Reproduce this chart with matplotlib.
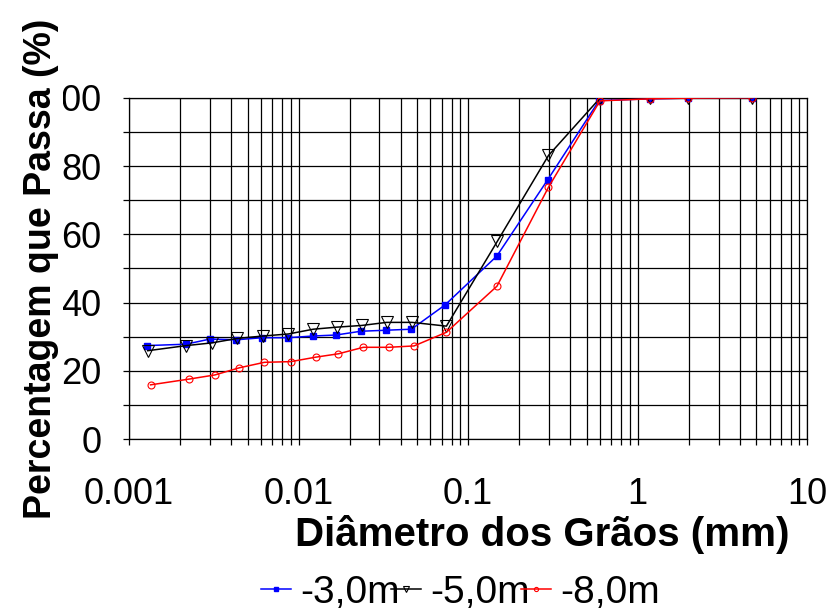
import matplotlib
matplotlib.use("Agg")
import matplotlib.pyplot as plt
from matplotlib.ticker import LogLocator, MultipleLocator, NullFormatter, FixedLocator

plt.rcParams['font.family'] = ['Liberation Sans', 'DejaVu Sans']

# grain size (mm) and percent passing for each depth
d_3m = [0.00127, 0.00216, 0.0030, 0.0043, 0.00607, 0.00863, 0.01213, 0.01665,
        0.0233, 0.0328, 0.0463, 0.0731, 0.1476, 0.295, 0.593, 1.19, 1.98, 4.75]
p_3m = [27.4, 27.8, 29.3, 29.1, 29.7, 29.7, 30.2, 30.5, 31.6, 31.9, 32.2, 39.3,
        53.6, 76.0, 99.2, 99.7, 99.9, 100.0]

d_5m = [0.00129, 0.00218, 0.00309, 0.00436, 0.00615, 0.00871, 0.01222, 0.0168,
        0.0236, 0.0331, 0.0468, 0.0745, 0.149, 0.298, 0.6, 1.19, 1.98, 4.75]
p_5m = [25.9, 27.4, 28.2, 29.5, 30.2, 30.8, 32.2, 32.8, 33.3, 34.2, 34.2, 33.1,
        58.0, 83.1, 99.9, 100.0, 100.0, 100.0]

d_8m = [0.00134, 0.00227, 0.00321, 0.00448, 0.00629, 0.0090, 0.0126, 0.0172,
        0.0241, 0.0340, 0.0480, 0.0745, 0.148, 0.298, 0.6, 1.19, 1.98, 4.75]
p_8m = [15.9, 17.6, 18.8, 20.9, 22.5, 22.7, 24.0, 25.0, 26.9, 26.9, 27.3, 31.3,
        44.8, 73.8, 99.1, 99.7, 99.9, 100.0]

x_ticks = [0.001, 0.01, 0.1, 1, 10]
x_labels = ["0.001", "0.01", "0.1", "1", "10"]
y_ticks = [0, 20, 40, 60, 80, 100]

fig = plt.figure(figsize=(8.27, 6.15), dpi=100)
ax = fig.add_axes([0.156, 0.286, 0.820, 0.555])

ax.plot(d_3m, p_3m, '-', color='blue', marker='s', ms=5, mfc='blue', mec='blue',
        lw=1.1, label='-3,0m', zorder=3)
ax.plot(d_5m, p_5m, '-', color='black', marker='v', ms=8, mfc='none', mec='black',
        mew=0.8, lw=1.1, label='-5,0m', zorder=3)
ax.plot(d_8m, p_8m, '-', color='red', marker='o', ms=5, mfc='none', mec='red',
        mew=0.8, lw=1.1, label='-8,0m', zorder=3)

ax.set_xscale('log')
ax.set_xlim(0.001, 10)
ax.set_ylim(0, 100)
ax.xaxis.set_major_locator(FixedLocator(x_ticks))
ax.set_xticklabels(x_labels)
ax.xaxis.set_minor_locator(LogLocator(base=10, subs=range(2, 10), numticks=20))
ax.xaxis.set_minor_formatter(NullFormatter())
ax.yaxis.set_major_locator(FixedLocator(y_ticks))
ax.yaxis.set_minor_locator(MultipleLocator(10))

ax.grid(True, which='both', color='black', lw=0.9)
ax.set_axisbelow(True)
ax.tick_params(axis='both', which='both', direction='out', color='black',
               width=0.9, length=4, labelsize=26)
ax.tick_params(axis='y', pad=16)
ax.tick_params(axis='x', pad=23)
for s in ax.spines.values():
    s.set_color('black')
    s.set_linewidth(0.9)

ax.set_xlabel('Diâmetro dos Grãos (mm)', fontsize=29, fontweight='bold')
ax.xaxis.set_label_coords(0.61, -0.222)
ax.set_ylabel('Percentagem que Passa (%)', fontsize=27, fontweight='bold',
              bbox=dict(facecolor='white', edgecolor='none', pad=3))
ax.yaxis.set_label_coords(-0.103, 0.5)

fig.legend(loc='center', bbox_to_anchor=(0.557, 0.036), ncol=3, frameon=False,
           fontsize=28, handlelength=0.78, handletextpad=0.24, columnspacing=-0.24,
           markerscale=0.6, borderpad=0)

fig.savefig('out.png', dpi=100)
